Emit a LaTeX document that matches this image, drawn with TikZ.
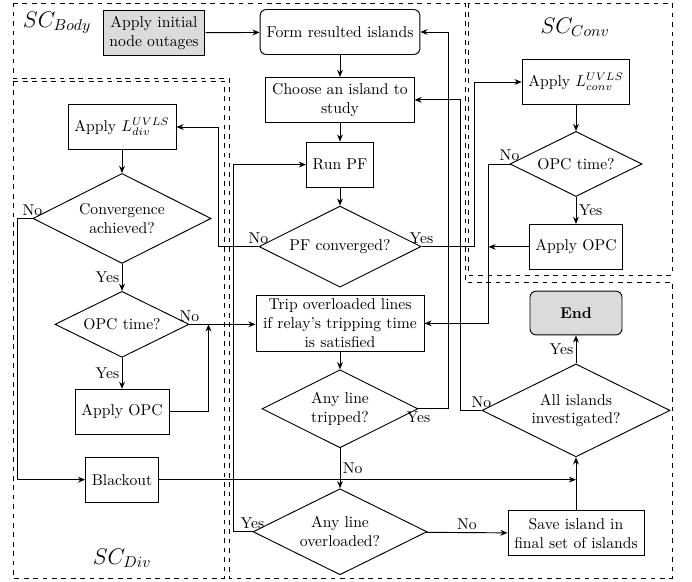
\documentclass[tikz,border=0pt]{standalone}
\usepackage{amsmath,amssymb}
\usetikzlibrary{arrows.meta,positioning,calc,shapes.geometric}
\tikzset{
  box/.style={draw, rectangle, align=center, minimum height=28.7pt, inner xsep=4pt, inner ysep=2.5pt, fill=white, semithick},
  rbox/.style={box, rounded corners=4pt},
  gbox/.style={box, fill=black!14},
  dbox/.style={draw, diamond, aspect=2, align=center, inner sep=0pt, fill=white, semithick},
  arr/.style={-{Stealth[length=1.6mm, width=1.3mm]}, semithick},
  lbl/.style={inner sep=1.5pt},
  scbox/.style={draw, dashed, semithick},
  sclbl/.style={font=\Large},
}

\begin{document}
\begin{tikzpicture}[x=0.638pt, y=-0.638pt]
\useasboundingbox (0,0) rectangle (692,582);
% subsystem frames
\draw[scbox] (13,3) -- (465,3) -- (465,282) -- (672,282) -- (672,578) -- (229,578) -- (229,78) -- (13,78) -- cycle;
\draw[scbox] (13,81) rectangle (224,578);
\draw[scbox] (468,3) rectangle (672,275);
\node[sclbl] (tbody) at (57,23) {$SC_{Body}$};
\node[sclbl] (tconv) at (575,27) {$SC_{Conv}$};
\node[sclbl] (tdiv) at (122,558) {$SC_{Div}$};

% body
\node[gbox, minimum width=65pt] (init) at (154,33) {Apply initial\\node outages};
\node[rbox, minimum width=102pt] (form) at (340,32) {Form resulted islands};
\node[box, below=14pt of form, minimum width=94.4pt] (choose) {Choose an island to\\study};
\node[box, below=12pt of choose, minimum width=42pt] (runpf) {Run PF};
\node[dbox, below=11.5pt of runpf, minimum width=103.4pt, minimum height=51.7pt] (pfconv) {PF converged?};
\node[box, below=4.5pt of pfconv, minimum width=107.2pt] (trip) {Trip overloaded lines\\if relay's tripping time\\is satisfied};
\node[dbox, below=11pt of trip, minimum width=99.5pt, minimum height=49.8pt] (tripped) {Any line\\tripped?};
\node[dbox, below=25.5pt of tripped, minimum width=111pt, minimum height=54.9pt] (over) {Any line\\overloaded?};
\node[gbox, rounded corners=4pt, minimum width=58.7pt, minimum height=28pt] (endn) at (576,313) {\textbf{End}};
\node[dbox, below=17.9pt of endn, minimum width=120pt, minimum height=59.3pt] (alli) {All islands\\investigated?};
\node[box, below=33.8pt of alli, minimum width=86.8pt] (save) {Save island in\\final set of islands};

% divergence
\node[box, minimum width=68.9pt] (ldiv) at (122,127) {Apply $L_{div}^{UVLS}$};
\node[dbox, below=14.7pt of ldiv, minimum width=113.6pt, minimum height=57.4pt] (conv) {Convergence\\achieved?};
\node[dbox, below=17.2pt of conv, minimum width=85.5pt, minimum height=42.1pt] (opcd) {OPC time?};
\node[box, below=19.8pt of opcd, minimum width=60pt] (aopcd) {Apply OPC};
\node[box, below=14pt of aopcd, minimum width=46pt] (black) {Blackout};

% convergence
\node[box, minimum width=68.3pt] (lconv) at (576,82) {Apply $L_{conv}^{UVLS}$};
\node[dbox, below=16.6pt of lconv, minimum width=84.2pt, minimum height=41.5pt] (opcc) {OPC time?};
\node[box, below=17.2pt of opcc, minimum width=59.3pt] (aopcc) {Apply OPC};

\coordinate (cj) at ($(opcc.west)+(-21,0)$);
\coordinate (dj) at ($(aopcd.east)+(39,0)$);

\draw[arr] (init) -- (form);
\draw[arr] (form) -- (choose);
\draw[arr] (choose) -- (runpf);
\draw[arr] (runpf) -- (pfconv);
\draw[arr] (trip) -- (tripped);
\draw[arr] (tripped) -- node[lbl, right]{No} (over);
\draw[arr] (over) -- node[lbl, above]{No} (save);
\draw[arr] (save) -- (alli);
\draw[arr] (alli) -- node[lbl, left]{Yes} (endn);
\draw[arr] (pfconv.west) node[lbl, above]{No} -- ++(-40,0) |- (ldiv.east);
\draw[arr] (pfconv.east) node[lbl, above]{Yes} -- ++(53,0) |- (lconv.west);
\draw[arr] (tripped.east) node[lbl, below]{Yes} -- ++(30,0) |- (form.east);
\draw[arr] (over.west) node[lbl, above]{Yes} -- ++(-19,0) |- (runpf.west);
\draw[arr] (alli.west) node[lbl, above]{No} -- ++(-21,0) |- (choose.east);

\draw[arr] (ldiv) -- (conv);
\draw[arr] (conv) -- node[lbl, left]{Yes} (opcd);
\draw[arr] (opcd) -- node[lbl, left]{Yes} (aopcd);
\draw[arr] (conv.west) node[lbl, above]{No} -- ++(-15,0) |- (black.west);
\draw[arr] (opcd.east) node[lbl, above]{No} -- (opcd.east -| trip.west);
\draw[arr] (aopcd.east) -- (dj) -- (dj |- opcd.east);
\draw[arr] (black.east) -- (black.east -| save.north);

\draw[arr] (lconv) -- (opcc);
\draw[arr] (opcc) -- node[lbl, right]{Yes} (aopcc);
\draw[arr] (opcc.west) node[lbl, above]{No} -- (cj) |- (trip.east);
\draw[arr] (aopcc.west) -- (aopcc.west -| cj);
\end{tikzpicture}
\end{document}
